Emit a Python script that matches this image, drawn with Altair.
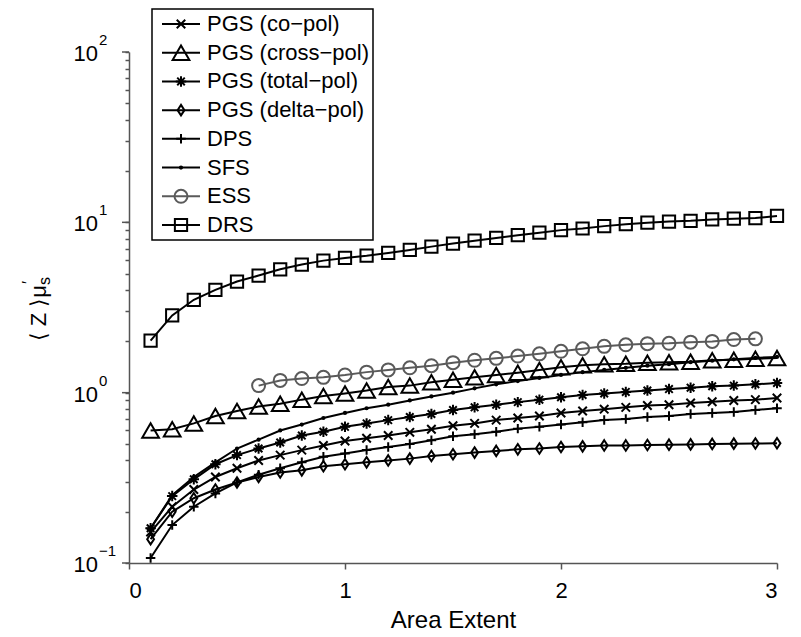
import altair as alt
import pandas as pd

# ---------------- data ----------------
area = [0.1, 0.2, 0.3, 0.4, 0.5, 0.6, 0.7, 0.8, 0.9, 1.0,
        1.1, 1.2, 1.3, 1.4, 1.5, 1.6, 1.7, 1.8, 1.9, 2.0,
        2.1, 2.2, 2.3, 2.4, 2.5, 2.6, 2.7, 2.8, 2.9, 3.0]
ess_area = [0.6, 0.7, 0.8, 0.9, 1.0, 1.1, 1.2, 1.3, 1.4, 1.5, 1.6, 1.7,
            1.8, 1.9, 2.0, 2.1, 2.2, 2.3, 2.4, 2.5, 2.6, 2.7, 2.8, 2.9]

co_pol = [0.152, 0.214, 0.27, 0.32, 0.36, 0.40, 0.43, 0.46, 0.49, 0.52,
          0.54, 0.56, 0.585, 0.61, 0.64, 0.66, 0.69, 0.71, 0.73, 0.76,
          0.78, 0.80, 0.82, 0.84, 0.85, 0.87, 0.885, 0.90, 0.91, 0.93]
cross_pol = [0.60, 0.61, 0.66, 0.73, 0.78, 0.83, 0.86, 0.91, 0.955, 0.99,
             1.03, 1.08, 1.10, 1.15, 1.19, 1.23, 1.27, 1.31, 1.36, 1.41,
             1.45, 1.47, 1.48, 1.50, 1.51, 1.52, 1.55, 1.56, 1.58, 1.60]
total_pol = [0.16, 0.247, 0.31, 0.38, 0.43, 0.47, 0.51, 0.56, 0.59, 0.63,
             0.66, 0.69, 0.72, 0.75, 0.79, 0.82, 0.85, 0.88, 0.91, 0.94,
             0.97, 0.99, 1.01, 1.03, 1.05, 1.07, 1.09, 1.10, 1.12, 1.14]
delta_pol = [0.138, 0.20, 0.24, 0.27, 0.297, 0.32, 0.34, 0.35, 0.37, 0.38,
             0.39, 0.40, 0.41, 0.425, 0.435, 0.445, 0.455, 0.465, 0.47, 0.48,
             0.484, 0.49, 0.49, 0.493, 0.495, 0.497, 0.50, 0.502, 0.503, 0.505]
dps = [0.107, 0.167, 0.214, 0.256, 0.297, 0.33, 0.36, 0.39, 0.42, 0.44,
       0.46, 0.48, 0.50, 0.525, 0.555, 0.57, 0.59, 0.615, 0.63, 0.65,
       0.67, 0.69, 0.70, 0.72, 0.73, 0.75, 0.76, 0.77, 0.79, 0.81]
sfs = [0.16, 0.25, 0.32, 0.39, 0.47, 0.53, 0.60, 0.65, 0.71, 0.76,
       0.81, 0.85, 0.90, 0.95, 1.00, 1.06, 1.12, 1.17, 1.22, 1.27,
       1.32, 1.36, 1.40, 1.44, 1.47, 1.51, 1.54, 1.57, 1.60, 1.62]
ess = [1.10, 1.18, 1.21, 1.23, 1.27, 1.32, 1.36, 1.40, 1.44, 1.50, 1.55, 1.59,
       1.64, 1.69, 1.75, 1.81, 1.87, 1.91, 1.94, 1.95, 1.98, 2.00, 2.05, 2.07]
drs = [2.02, 2.84, 3.51, 4.01, 4.49, 4.87, 5.30, 5.65, 5.96, 6.18,
       6.37, 6.61, 6.88, 7.2, 7.5, 7.8, 8.1, 8.4, 8.7, 9.0,
       9.2, 9.5, 9.75, 9.95, 10.1, 10.2, 10.4, 10.5, 10.6, 10.9]

names = ["PGS (co\u2212pol)", "PGS (cross\u2212pol)", "PGS (total\u2212pol)",
         "PGS (delta\u2212pol)", "DPS", "SFS", "ESS", "DRS"]

decades = [0.1, 1, 10, 100]
exponents = ["\u22121", "0", "1", "2"]
x_ticks = [0, 1, 2, 3]
y_ticks = [0.1, 0.2, 0.3, 0.4, 0.5, 0.6, 0.7, 0.8, 0.9,
           1, 2, 3, 4, 5, 6, 7, 8, 9,
           10, 20, 30, 40, 50, 60, 70, 80, 90, 100]

# ---------------- styling ----------------
FONT = "Liberation Sans"
AXC = "#555555"
X_MARK = "M-1,-1L1,1M-1,1L1,-1"
ASTER = "M-1,0L1,0M0,-1L0,1M-0.72,-0.72L0.72,0.72M-0.72,0.72L0.72,-0.72"
DIAM = "M0,-1L0.65,0L0,1L-0.65,0Z"
PLUS = "M-1,0L1,0M0,-1L0,1"
shapes = [X_MARK, "triangle-up", ASTER, DIAM, PLUS, "circle", "circle", "square"]
sizes = [72, 280, 110, 110, 90, 5, 169, 150]
colors = ["#000000", "#000000", "#000000", "#000000", "#000000", "#000000",
          "#5a5a5a", "#000000"]

series_x = [area, area, area, area, area, area, ess_area, area]
series_y = [co_pol, cross_pol, total_pol, delta_pol, dps, sfs, ess, drs]

rows = []
for nm, xs, ys in zip(names, series_x, series_y):
    for xv, yv in zip(xs, ys):
        rows.append({"series": nm, "x": xv, "y": yv})
df = pd.DataFrame(rows)

color_scale = alt.Scale(domain=names, range=colors)
shape_scale = alt.Scale(domain=names, range=shapes)
size_scale = alt.Scale(type="ordinal", domain=names, range=sizes)

xenc = alt.X("x:Q", scale=alt.Scale(domain=[0, 3], nice=False, zero=False),
             axis=alt.Axis(values=x_ticks, title="Area Extent", format="d",
                           labelFontSize=22, labelColor="black", labelFont=FONT,
                           labelPadding=11, tickSize=6, tickColor=AXC, tickWidth=1.5,
                           domainColor=AXC, domainWidth=1.5, grid=False,
                           titleFontSize=24, titleFontWeight="normal",
                           titleColor="black", titleFont=FONT, titlePadding=7))
yscale = alt.Scale(type="log", domain=[0.1, 100], nice=False)
yenc = alt.Y("y:Q", scale=yscale, title=None,
             axis=alt.Axis(values=y_ticks, labels=False, grid=False,
                           domainColor=AXC, domainWidth=1.5,
                           ticks=True, tickColor=AXC, tickWidth=1.5, tickSize=4))

base = alt.Chart(df)
lines = base.mark_line(strokeWidth=2).encode(
    x=xenc, y=yenc,
    color=alt.Color("series:N", scale=color_scale, legend=None),
)
points = base.mark_point(filled=False, strokeWidth=2, opacity=1).encode(
    x=alt.X("x:Q"), y=alt.Y("y:Q"),
    color=alt.Color("series:N", scale=color_scale, legend=None),
    shape=alt.Shape("series:N", scale=shape_scale, legend=None),
    size=alt.Size("series:N", scale=size_scale, legend=None),
)

lab_df = pd.DataFrame({"v": decades, "e": exponents})
major_ticks = alt.Chart(lab_df).mark_rule(color=AXC, strokeWidth=1.5).encode(
    x=alt.value(-7), x2=alt.value(0), y=alt.Y("v:Q", scale=yscale))
lab_base = alt.Chart(lab_df).mark_text(
    align="right", baseline="middle", fontSize=22, font=FONT, color="black", dy=2
).encode(x=alt.value(-31), y=alt.Y("v:Q", scale=yscale), text=alt.value("10"))
lab_exp = alt.Chart(lab_df).mark_text(
    align="left", baseline="middle", fontSize=15, font=FONT, color="black", dy=-12
).encode(x=alt.value(-30), y=alt.Y("v:Q", scale=yscale), text="e:N")

one = pd.DataFrame({"k": [0]})
t_main = alt.Chart(one).mark_text(
    angle=270, align="right", baseline="middle", fontSize=22, font=FONT, color="black"
).encode(x=alt.value(-90), y=alt.value(233), text=alt.value("\u27e8 Z \u27e9\u03bc"))
t_sub = alt.Chart(one).mark_text(
    angle=270, align="left", baseline="middle", fontSize=16, font=FONT, color="black", dy=6
).encode(x=alt.value(-90), y=alt.value(233), text=alt.value("s"))
t_prime = alt.Chart(one).mark_text(
    angle=270, align="left", baseline="middle", fontSize=16, font=FONT, color="black",
    dy=-10, dx=1
).encode(x=alt.value(-90), y=alt.value(233), text=alt.value("\u2032"))

data_group = alt.layer(lines, points, major_ticks, lab_base, lab_exp,
                       t_main, t_sub, t_prime)

# ---------------- legend ----------------
leg_df = pd.DataFrame({"series": names})
ly = alt.Y("series:N", axis=None,
           scale=alt.Scale(type="point", domain=names, range=[-28, 173], padding=0))
box = alt.Chart(one).mark_rect(fill="white", stroke="black", strokeWidth=1.5).encode(
    x=alt.value(23), x2=alt.value(244), y=alt.value(-43), y2=alt.value(188))
leg_lines = alt.Chart(leg_df).mark_rule(strokeWidth=2).encode(
    x=alt.value(33), x2=alt.value(71), y=ly,
    color=alt.Color("series:N", scale=color_scale, legend=None))
leg_pts = alt.Chart(leg_df).mark_point(filled=False, strokeWidth=2, opacity=1).encode(
    x=alt.value(52), y=ly,
    color=alt.Color("series:N", scale=color_scale, legend=None),
    shape=alt.Shape("series:N", scale=shape_scale, legend=None),
    size=alt.Size("series:N", scale=size_scale, legend=None))
leg_text = alt.Chart(leg_df).mark_text(
    align="left", baseline="middle", fontSize=22, font=FONT, color="black"
).encode(x=alt.value(78), y=ly, text="series:N")

legend_group = alt.layer(box, leg_lines, leg_pts, leg_text)

chart = alt.layer(data_group, legend_group).resolve_scale(
    y="independent"
).properties(
    width=648, height=511,
    autosize=alt.AutoSizeParams(type="none"),
    padding={"left": 121, "top": 44, "right": 16, "bottom": 74},
    background="white",
).configure_view(stroke="transparent")

chart.save("out.html", embed_options={"renderer": "svg", "actions": False})
